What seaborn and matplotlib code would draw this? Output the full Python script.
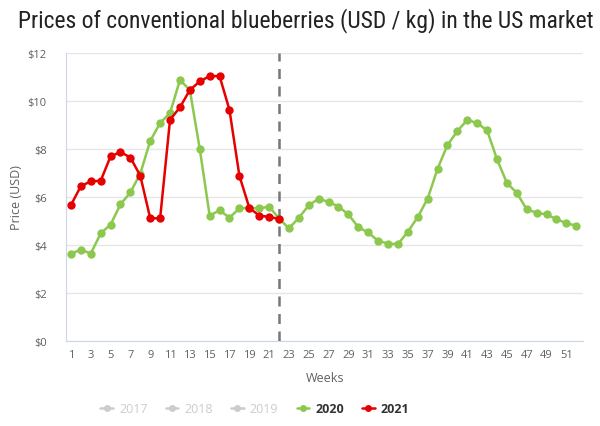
import pandas as pd
import numpy as np
import seaborn as sns
import matplotlib.pyplot as plt
from matplotlib.lines import Line2D

sns.set_style("white")
plt.rcParams["font.family"] = ["Open Sans", "DejaVu Sans"]

# Weekly prices (USD / kg)
weeks_2020 = list(range(1, 53))
price_2020 = [3.63, 3.81, 3.64, 4.48, 4.85, 5.69, 6.19, 6.97, 8.33, 9.08,
              9.49, 10.87, 10.45, 8.00, 5.22, 5.44, 5.14, 5.52, 5.55, 5.52,
              5.60, 5.10, 4.69, 5.13, 5.65, 5.93, 5.79, 5.60, 5.27, 4.74,
              4.52, 4.17, 4.06, 4.03, 4.55, 5.16, 5.93, 7.17, 8.16, 8.74,
              9.21, 9.07, 8.77, 7.57, 6.58, 6.17, 5.48, 5.34, 5.27, 5.07,
              4.91, 4.80]

weeks_2021 = list(range(1, 23))
price_2021 = [5.66, 6.45, 6.65, 6.67, 7.69, 7.87, 7.64, 6.88, 5.11, 5.11,
              9.21, 9.73, 10.45, 10.81, 11.03, 11.03, 9.62, 6.88, 5.55, 5.22,
              5.17, 5.08]

current_week = 22
years = ["2017", "2018", "2019", "2020", "2021"]
y_ticks = [0, 2, 4, 6, 8, 10, 12]
x_ticks = list(range(1, 52, 2))

green = "#8cc84e"
red = "#e60000"
hidden = "#cccccc"

df = pd.concat([
    pd.DataFrame({"Week": weeks_2020, "Price": price_2020, "Year": "2020"}),
    pd.DataFrame({"Week": weeks_2021, "Price": price_2021, "Year": "2021"}),
])

fig = plt.figure(figsize=(6, 4.27), dpi=100)
ax = fig.add_axes([0.11, 0.199, 0.862, 0.675])

sns.lineplot(
    data=df,
    x="Week",
    y="Price",
    hue="Year",
    palette={"2020": green, "2021": red},
    marker="o",
    markersize=6,
    markeredgewidth=0,
    linewidth=1.8,
    legend=False,
    ax=ax
)

ax.axvline(current_week, color="#777777", linestyle=(0, (4, 3)), linewidth=1.8, zorder=1)

ax.set_xlim(0.5, 52.7)
ax.set_ylim(0, 12)
ax.set_xticks(x_ticks)
ax.set_yticks(y_ticks)
ax.set_yticklabels([f"${v}" for v in y_ticks])
ax.tick_params(axis="both", length=0, labelsize=8, labelcolor="#606060")
ax.tick_params(axis="y", pad=14)
ax.tick_params(axis="x", pad=6)
ax.yaxis.grid(True, color="#e6e6e6", linewidth=1)
ax.xaxis.grid(False)
for side in ["top", "right"]:
    ax.spines[side].set_visible(False)
ax.spines["left"].set_color("#ccd6eb")
ax.spines["bottom"].set_color("#ccd6eb")

ax.set_xlabel("Weeks", fontsize=9, color="#606060", labelpad=8)
ax.set_ylabel("Price (USD)", fontsize=9, color="#606060", labelpad=3)

fig.text(0.03, 0.935, "Prices of conventional blueberries (USD / kg) in the US market",
         fontsize=17, color="#222222",
         family=["Liberation Sans Narrow", "Roboto Condensed", "Liberation Sans"])

# Legend: 2017-2019 hidden series, shown greyed out
colors = [hidden, hidden, hidden, green, red]
handles = [Line2D([], [], color=c, marker="o", markersize=5, markeredgewidth=0,
                  linewidth=1.8) for c in colors]
leg = fig.legend(handles, years, loc="center", bbox_to_anchor=(0.425, 0.04),
                 ncol=5, frameon=False, fontsize=9, handlelength=1.0,
                 columnspacing=1.45, handletextpad=0.5)
for txt, c in zip(leg.get_texts(), ["#cccccc"] * 3 + ["#333333"] * 2):
    txt.set_color(c)
    if c == "#333333":
        txt.set_fontweight("bold")

fig.savefig("out.png", dpi=100)
